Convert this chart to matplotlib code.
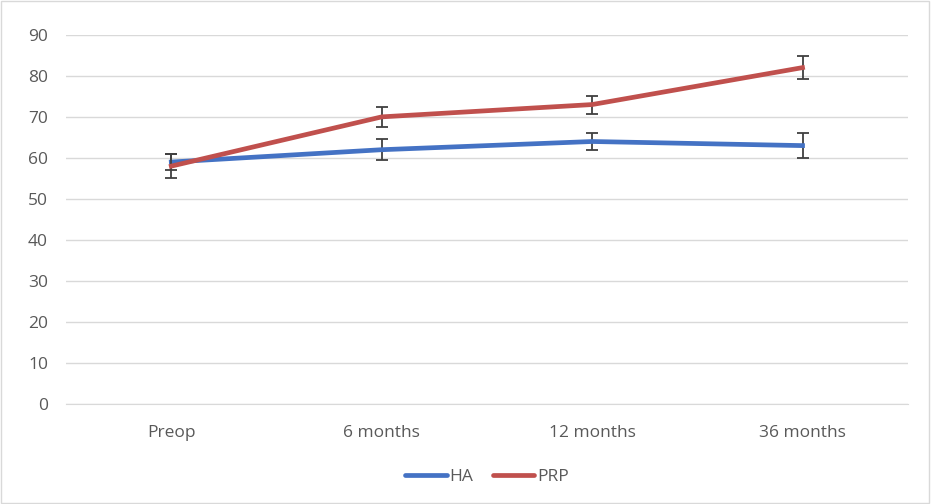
import numpy as np
from matplotlib import pyplot as plt
from matplotlib.patches import Rectangle
from matplotlib.lines import Line2D

# data
categories = ['Preop', '6 months', '12 months', '36 months']
ha = [59, 62, 64, 63]
ha_err = [2, 2.5, 2, 3]
prp = [58, 70, 73, 82]
prp_err = [3, 2.4, 2.2, 2.8]

plt.rcParams['font.family'] = ['Open Sans', 'DejaVu Sans']

fig = plt.figure(figsize=(9.31, 5.04), dpi=100)
ax = fig.add_axes([0.071, 0.198, 0.904, 0.733])

x = np.arange(len(categories))
ax.errorbar(x, ha, yerr=ha_err, color='#4472C4', lw=3.4, ecolor='#404040',
            elinewidth=1.3, capsize=4, capthick=1.3, zorder=3)
ax.errorbar(x, prp, yerr=prp_err, color='#C0504D', lw=3.4, ecolor='#404040',
            elinewidth=1.3, capsize=4, capthick=1.3, zorder=4)

ax.set_xlim(-0.5, len(categories) - 0.5)
ax.set_ylim(0, 90)
ax.set_yticks(range(0, 91, 10))
ax.set_xticks(x)
ax.set_xticklabels(categories)
ax.yaxis.grid(True, color='#D9D9D9', lw=1)
ax.set_axisbelow(True)
for s in ['top', 'right', 'left']:
    ax.spines[s].set_visible(False)
ax.spines['bottom'].set_color('#D9D9D9')
ax.tick_params(length=0, colors='#595959', labelsize=12.5)
ax.tick_params(axis='x', pad=15)
ax.tick_params(axis='y', pad=13)

handles = [Line2D([], [], color='#4472C4', lw=3.4, solid_capstyle='round'),
           Line2D([], [], color='#C0504D', lw=3.4, solid_capstyle='round')]
ax.legend(handles, ['HA', 'PRP'], loc='center', bbox_to_anchor=(0.5, -0.198), ncol=2,
          frameon=False, fontsize=12.5, labelcolor='#595959', handlelength=2.4,
          handletextpad=0.15, columnspacing=1.1)

# light border around the whole chart
fig.patches.append(Rectangle((0.001, 0.001), 0.997, 0.997, transform=fig.transFigure,
                             fill=False, edgecolor='#D9D9D9', lw=1))

fig.savefig('out.png', dpi=100)
